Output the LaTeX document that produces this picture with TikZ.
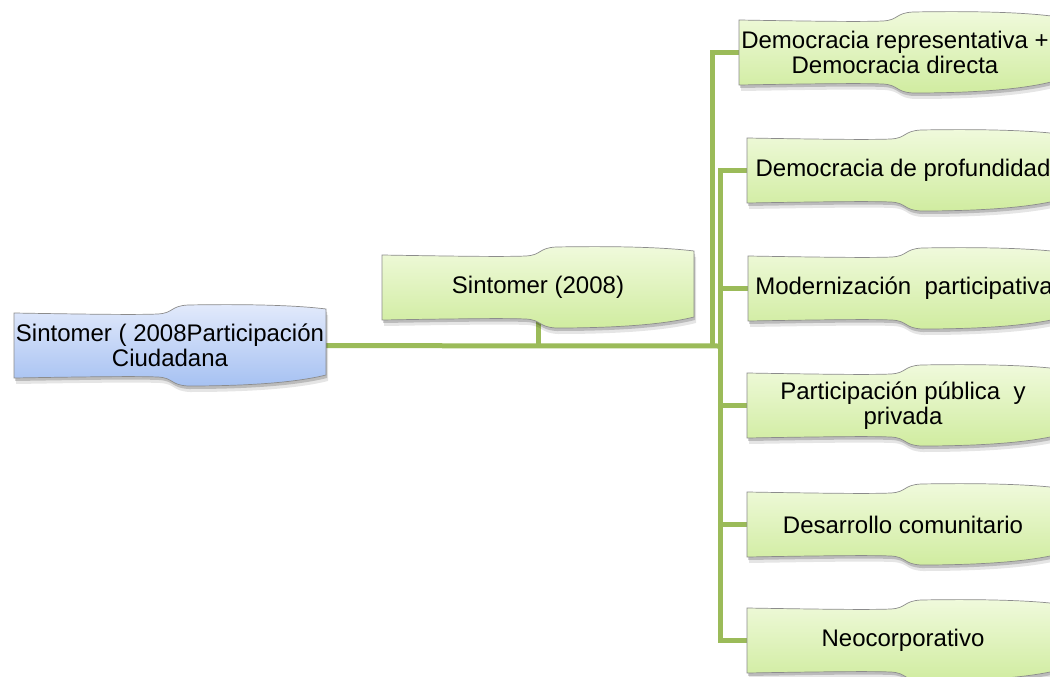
\documentclass[tikz,border=0pt]{standalone}
\usepackage{fontspec}
\setmainfont{Liberation Sans}
\pgfdeclarelayer{bg}
\pgfsetlayers{bg,main}
\definecolor{gtop}{HTML}{F0FADC}
\definecolor{gbot}{HTML}{D0ECA0}
\definecolor{btop}{HTML}{E2EAFB}
\definecolor{bbot}{HTML}{A6C1F2}
\definecolor{lineg}{HTML}{9BBB59}
\definecolor{edgec}{HTML}{8C8C8C}
\tikzset{
  wavep/.style={insert path={(0,0) .. controls (60,1) and (120,2) .. (144,1)
     .. controls (160,0) and (156,-7) .. (174,-8)
     .. controls (230,-9) and (280,-8) .. (312,-4)
     -- (312,62)
     .. controls (280,70) and (230,73) .. (174,73)
     .. controls (156,72) and (160,65) .. (144,64)
     .. controls (120,63) and (60,64) .. (0,65) -- cycle}},
  greenfill/.style={top color=gtop, bottom color=gbot},
  bluefill/.style={top color=btop, bottom color=bbot},
  boxtext/.style={font=\fontsize{24}{25}\selectfont, align=center, inner sep=0pt, text=black},
  conn/.style={draw=lineg, line width=5pt},
}
\newcommand\wavebox[5]{%
  \begin{scope}[shift={(#2,#3)}]
    \fill[black, opacity=0.10, shift={(2,6)}, wavep];
    \fill[black, opacity=0.18, shift={(1,3)}, wavep];
    \shade[#4, wavep];
    \draw[edgec, line width=0.7pt, wavep];
  \end{scope}
  \node[boxtext] (#1) at (#2+156,#3+32.5) {#5};
}
\begin{document}
\begin{tikzpicture}[x=1pt,y=-1pt]
\useasboundingbox (0,0) rectangle (1050,677);
\clip (0,0) rectangle (1050,677);
\wavebox{root}{14}{313}{bluefill}{Sintomer ( 2008Participación\\Ciudadana}
\wavebox{sint}{382}{255}{greenfill}{Sintomer (2008)}
\wavebox{b1}{739}{20}{greenfill}{Democracia representativa +\\Democracia directa}
\wavebox{b2}{747}{138}{greenfill}{Democracia de profundidad}
\wavebox{b3}{748}{256}{greenfill}{Modernización\ \ participativa}
\wavebox{b4}{747}{373}{greenfill}{Participación pública\ \ y\\privada}
\wavebox{b5}{747}{492}{greenfill}{Desarrollo comunitario}
\wavebox{b6}{747}{608}{greenfill}{Neocorporativo}
\coordinate (spine) at (720,346);
\coordinate (j1) at (712,346);
\begin{pgfonlayer}{bg}
  \fill[white] (0,0) rectangle (1050,677);
  \draw[conn] (root.center) -- (spine);
  \draw[conn] (sint.center) -- (sint.center |- spine);
  \draw[conn] (j1) |- (b1.center);
  \foreach \b in {b2,b3,b4,b5,b6} \draw[conn] (spine) |- (\b.center);
\end{pgfonlayer}
\end{tikzpicture}
\end{document}
